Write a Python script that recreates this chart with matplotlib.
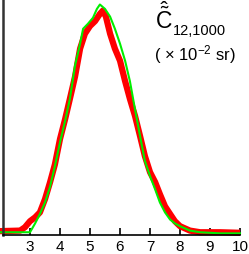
import numpy as np
import matplotlib
matplotlib.use("Agg")
import matplotlib.pyplot as plt

plt.rcParams['font.family'] = ['Liberation Sans', 'DejaVu Sans']
plt.rcParams['mathtext.fontset'] = 'custom'
plt.rcParams['mathtext.rm'] = 'Liberation Sans'
plt.rcParams['mathtext.it'] = 'Liberation Sans:italic'
plt.rcParams['mathtext.bf'] = 'Liberation Sans:bold'

# red curve (thick)
x_red = [2.0, 2.67, 2.83, 3.0, 3.17, 3.33, 3.5, 3.67, 3.83, 4.0, 4.17, 4.33, 4.5,
         4.67, 4.83, 5.0, 5.17, 5.33, 5.43, 5.53, 5.67, 5.83, 6.0, 6.17, 6.33, 6.5,
         6.67, 6.83, 7.0, 7.17, 7.33, 7.5, 7.67, 7.83, 8.0, 8.33, 8.67, 9.33, 10.0]
y_red = [0.004, 0.005, 0.011, 0.022, 0.029, 0.038, 0.062, 0.093, 0.125, 0.171, 0.207,
         0.244, 0.284, 0.335, 0.362, 0.376, 0.385, 0.398, 0.404, 0.393, 0.362, 0.335,
         0.313, 0.276, 0.244, 0.213, 0.176, 0.140, 0.111, 0.093, 0.071, 0.049, 0.035,
         0.022, 0.013, 0.005, 0.002, 0.002, 0.001]

# green curve (thin)
x_green = [2.0, 2.67, 3.0, 3.17, 3.33, 3.5, 3.67, 3.83, 4.0, 4.17, 4.33, 4.5, 4.67,
           4.77, 4.93, 5.1, 5.23, 5.33, 5.5, 5.67, 5.83, 6.0, 6.17, 6.33, 6.5, 6.67,
           6.83, 7.0, 7.17, 7.33, 7.5, 7.67, 7.83, 8.0, 8.33, 8.67, 9.33, 10.0]
y_green = [0.002, 0.002, 0.002, 0.018, 0.035, 0.056, 0.085, 0.122, 0.165, 0.204, 0.244,
           0.304, 0.344, 0.371, 0.380, 0.391, 0.407, 0.415, 0.407, 0.393, 0.371, 0.344,
           0.313, 0.276, 0.225, 0.176, 0.131, 0.104, 0.080, 0.056, 0.038, 0.025, 0.018,
           0.013, 0.005, 0.002, 0.0, 0.0]

xticks = [3, 4, 5, 6, 7, 8, 9, 10]

fig = plt.figure(figsize=(2.49, 2.55), dpi=100)
ax = fig.add_axes([3/249, 19/255, 237/249, 236/255])

ax.plot(x_red, y_red, color="#ff0000", lw=4.5, solid_capstyle="butt", clip_on=False)
ax.plot(x_green, y_green, color="#00ee00", lw=1.5, clip_on=False)

ax.set_xlim(2.1, 10)
ax.set_ylim(-0.003, 0.425)
ax.set_xticks(xticks)
ax.set_xticklabels([str(t) for t in xticks])
ax.set_yticks([])
ax.tick_params(axis="x", direction="in", length=5, width=1.2, labelsize=11, pad=3)
ax.spines["top"].set_visible(False)
ax.spines["right"].set_visible(False)
ax.spines["left"].set_linewidth(1.8)
ax.spines["left"].set_color("#333333")
ax.spines["bottom"].set_linewidth(1.2)

# title: C with tilde and hat, subscript, units
fig.text(156/249, 1 - 28/255, "C", fontsize=16.5, ha="left", va="baseline")
fig.text(164.5/249, 1 - 11/255, r"$\hat{\tilde{}}$", fontsize=16, ha="center",
         va="baseline")
fig.text(173/249, 1 - 35/255, "12,1000", fontsize=10.5, ha="left", va="baseline")
fig.text(195/249, 1 - 55/255, r"( $\times$ 10$^{-2}$ sr)", fontsize=12,
         ha="center", va="center")

fig.savefig("out.png", dpi=100)
